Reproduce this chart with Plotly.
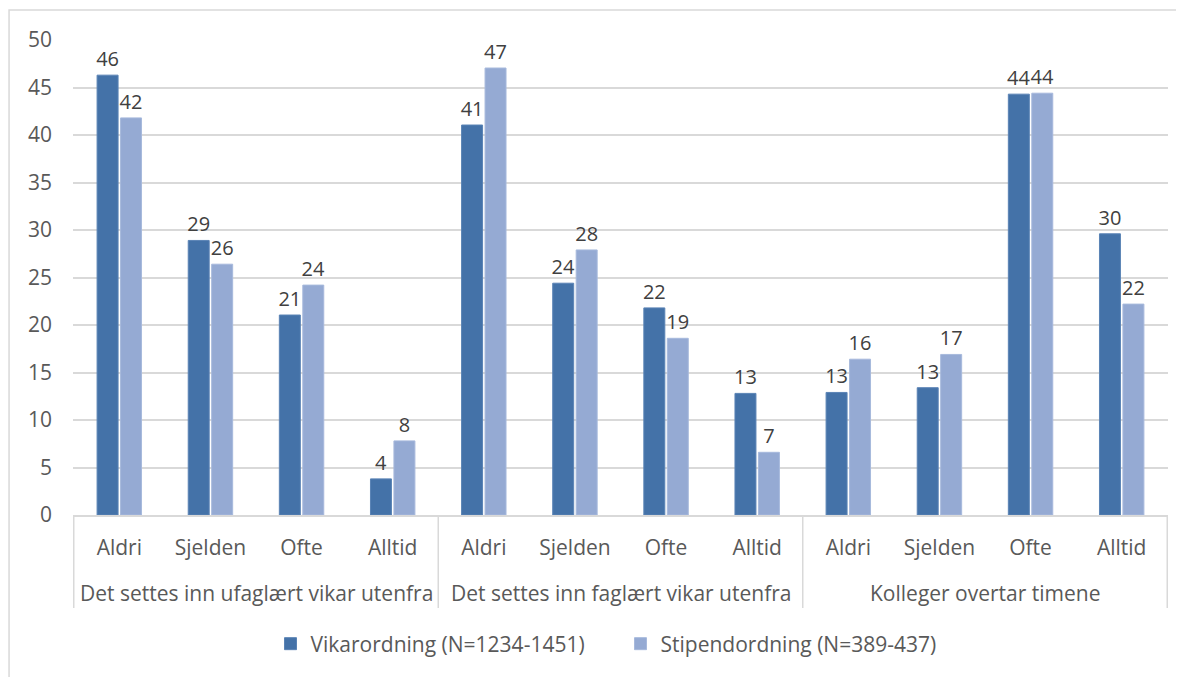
import plotly.graph_objects as go

grupper = ['Det settes inn ufaglært vikar utenfra'] * 4 + ['Det settes inn faglært vikar utenfra'] * 4 + ['Kolleger overtar timene'] * 4
svar = ['Aldri', 'Sjelden', 'Ofte', 'Alltid'] * 3

vikar = [46.3, 28.9, 21.05, 3.8, 41.05, 24.4, 21.8, 12.8, 12.9, 13.4, 44.3, 29.6]
stipend = [41.8, 26.4, 24.2, 7.8, 47.05, 27.9, 18.6, 6.6, 16.4, 16.9, 44.4, 22.2]

navn_vikar = 'Vikarordning (N=1234-1451)'
navn_stipend = 'Stipendordning (N=389-437)'

font_navn = 'Open Sans'
tekstfarge = '#595959'
linjefarge = '#D9D9D9'
fs = 21

# unike kategorinavn, viser bare svaret som tick-tekst
kategorier = [f'{g}|{s}' for g, s in zip(grupper, svar)]

fig = go.Figure()
fig.add_trace(go.Bar(x=kategorier, y=vikar, name=navn_vikar,
                     marker=dict(color='#4472A8', line=dict(color='#5A83B5', width=1)),
                     texttemplate='%{y:.0f}', textposition='outside', cliponaxis=False,
                     constraintext='none', textfont=dict(size=20, color='#404040')))
fig.add_trace(go.Bar(x=kategorier, y=stipend, name=navn_stipend,
                     marker=dict(color='#95AAD3', line=dict(color='#A7B9DC', width=1)),
                     texttemplate='%{y:.0f}', textposition='outside', cliponaxis=False,
                     constraintext='none', textfont=dict(size=20, color='#404040')))

# gruppeetiketter og skillelinjer under aksen
unike_grupper = list(dict.fromkeys(grupper))
annotasjoner = []
skiller = []
start = 0
for g in unike_grupper:
    n = grupper.count(g)
    annotasjoner.append(dict(x=start + (n - 1) / 2, xref='x', y=-0.164, yref='paper',
                             text=g, showarrow=False, yanchor='middle',
                             font=dict(size=fs, color=tekstfarge)))
    skiller.append(dict(type='line', xref='x', yref='paper', x0=start - 0.5, x1=start - 0.5,
                        y0=0, y1=-0.196, line=dict(color=linjefarge, width=1.5)))
    start += n
skiller.append(dict(type='line', xref='x', yref='paper', x0=start - 0.5, x1=start - 0.5,
                    y0=0, y1=-0.196, line=dict(color=linjefarge, width=1.5)))

ramme = dict(type='rect', xref='paper', yref='paper', x0=-0.0584, x1=1.1, y0=-0.4, y1=1.063,
             line=dict(color=linjefarge, width=1.5), fillcolor='rgba(0,0,0,0)', layer='below')

fig.update_layout(width=1176, height=669,
                  margin=dict(l=65, r=16, t=32, b=162, autoexpand=False),
                  paper_bgcolor='white', plot_bgcolor='white',
                  font=dict(family=font_navn, size=fs, color=tekstfarge),
                  barmode='group', bargap=0.485, bargroupgap=0.106,
                  showlegend=True,
                  legend=dict(orientation='h', x=0.5, xanchor='center', y=-0.2716, yanchor='middle',
                              font=dict(size=fs, color=tekstfarge), itemwidth=30,
                              entrywidth=305, entrywidthmode='pixels'),
                  annotations=annotasjoner,
                  shapes=skiller + [ramme])

fig.update_yaxes(range=[0, 50], dtick=5, showgrid=True, gridcolor=linjefarge, gridwidth=1.5,
                 zeroline=False, showline=False, ticks='', ticklabelstandoff=20, automargin=False,
                 tickfont=dict(size=fs, color=tekstfarge))
fig.update_xaxes(type='category', tickvals=kategorier, ticktext=svar,
                 showline=True, linecolor=linjefarge, linewidth=1.5, showgrid=False,
                 ticks='', ticklabelstandoff=13, automargin=False,
                 tickfont=dict(size=fs, color=tekstfarge))

fig.write_html('out.html')
